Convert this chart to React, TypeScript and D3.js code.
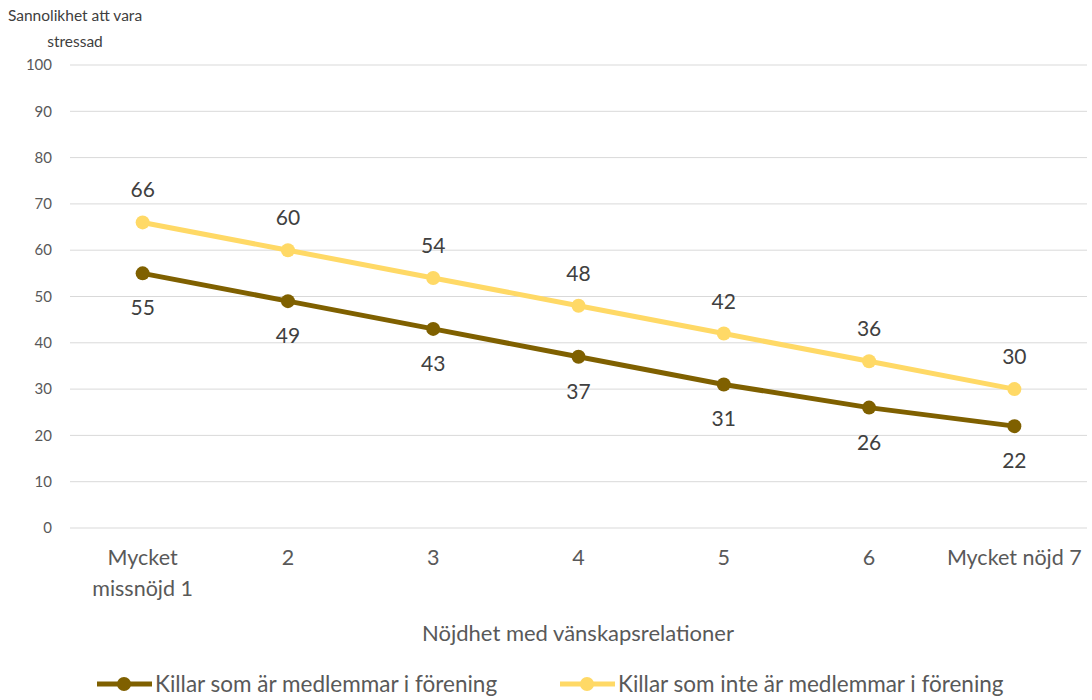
import React from "react"
import * as d3 from "d3"

const categories = ["Mycket missnöjd 1", "2", "3", "4", "5", "6", "Mycket nöjd 7"]
const members = [55, 49, 43, 37, 31, 26, 22]
const nonMembers = [66, 60, 54, 48, 42, 36, 30]
const yTicks = [0, 10, 20, 30, 40, 50, 60, 70, 80, 90, 100]
const seriesNames = ["Killar som är medlemmar i förening", "Killar som inte är medlemmar i förening"]

const W = 1092
const H = 700
const font = "Lato, 'Open Sans', sans-serif"
const dark = "#7F6000"
const light = "#FFD966"
const textColor = "#595959"

export default function App() {
  const x = d3.scaleBand().domain(categories).range([70, 1087])
  const y = d3.scaleLinear().domain([0, 100]).range([528, 65])
  const cx = (i: number) => x(categories[i])! + x.bandwidth() / 2
  const line = d3.line<number>().x((_, i) => cx(i)).y(d => y(d))

  const series = [
    { values: members, color: dark, dy: 42 },
    { values: nonMembers, color: light, dy: -25 },
  ]

  return (
    <svg width={W} height={H} style={{ position: "absolute", left: 0, top: 0, fontFamily: font }}>
      <rect width={W} height={H} fill="#fff" />
      {yTicks.map(t => (
        <g key={t}>
          <line x1={70} x2={1087} y1={y(t)} y2={y(t)} stroke="#d9d9d9" strokeWidth={1} />
          <text x={52} y={y(t)} dy="0.35em" textAnchor="end" fontSize={15} fill={textColor}>{t}</text>
        </g>
      ))}
      <text x={75} y={21} textAnchor="middle" fontSize={15.5} fill="#404040">Sannolikhet att vara</text>
      <text x={75} y={47} textAnchor="middle" fontSize={15.5} fill="#404040">stressad</text>

      {categories.map((c, i) => {
        const lines = i === 0 ? ["Mycket", "missnöjd 1"] : [c]
        return (
          <text key={c} x={cx(i)} y={565} textAnchor="middle" fontSize={21.5} fill={textColor}>
            {lines.map((l, j) => <tspan key={j} x={cx(i)} dy={j === 0 ? 0 : 31}>{l}</tspan>)}
          </text>
        )
      })}
      <text x={578} y={641} textAnchor="middle" fontSize={22} fill={textColor}>Nöjdhet med vänskapsrelationer</text>

      {series.map((s, k) => (
        <g key={k}>
          <path d={line(s.values)!} fill="none" stroke={s.color} strokeWidth={5} strokeLinejoin="round" />
          {s.values.map((v, i) => (
            <g key={i}>
              <circle cx={cx(i)} cy={y(v)} r={7} fill={s.color} />
              <text x={cx(i)} y={y(v) + s.dy} textAnchor="middle" fontSize={21} fill="#404040">{v}</text>
            </g>
          ))}
        </g>
      ))}

      {seriesNames.map((n, k) => {
        const lx = k === 0 ? 97 : 560
        const c = k === 0 ? dark : light
        return (
          <g key={n}>
            <line x1={lx} x2={lx + 55} y1={684} y2={684} stroke={c} strokeWidth={5} />
            <circle cx={lx + 27} cy={684} r={7} fill={c} />
            <text x={lx + 58} y={684} dy="0.35em" fontSize={22.5} fill={textColor}>{n}</text>
          </g>
        )
      })}
    </svg>
  )
}
